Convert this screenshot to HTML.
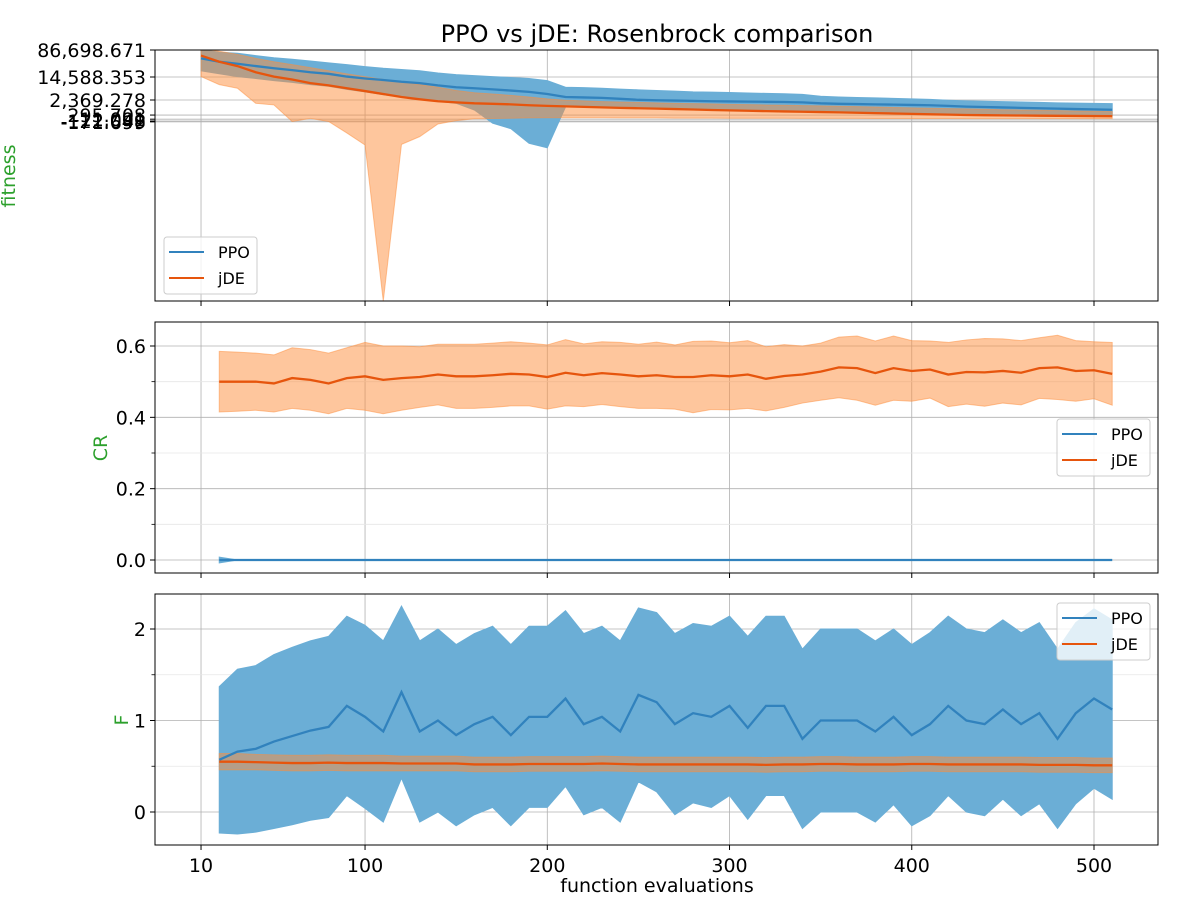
<!DOCTYPE html>
<html><head><meta charset="utf-8"><style>
body{margin:0;background:#fff;}
svg{display:block;font-family:"DejaVu Sans","Liberation Sans",sans-serif;}
</style></head><body>
<svg id="chart" width="1200" height="900" viewBox="0 0 1200 900" xmlns="http://www.w3.org/2000/svg">
<text x="657" y="42" font-size="24" text-anchor="middle">PPO vs jDE: Rosenbrock comparison</text>
<text x="657" y="892" font-size="19" text-anchor="middle">function evaluations</text>
<text transform="translate(15,176) rotate(-90)" font-size="19" fill="#2ca02c" text-anchor="middle">fitness</text>
<text transform="translate(107,448) rotate(-90)" font-size="19" fill="#2ca02c" text-anchor="middle">CR</text>
<text transform="translate(128,720) rotate(-90)" font-size="19" fill="#2ca02c" text-anchor="middle">F</text>
</svg>
<script>
// ---- data ----
const xTop = [10,20,30,40,50,60,70,80,90,100,110,120,130,140,150,160,170,180,190,200,210,220,230,240,250,260,270,280,290,300,310,320,330,340,350,360,370,380,390,400,410,420,430,440,450,460,470,480,490,500,510];
const ppoFit = [50000,40000,35000,30000,26000,23000,20000,18000,15000,13000,11500,10000,9000,7500,6500,6000,5500,5000,4500,3800,3000,2900,2800,2600,2400,2300,2200,2100,2000,1950,1900,1850,1800,1700,1500,1400,1350,1300,1250,1200,1150,1050,950,900,850,800,760,720,680,650,620];
const ppoFitLo = [22000,18000,15000,13000,11000,9500,8000,7000,5500,4500,3600,3000,2500,2000,1500,600,-250,-500,-2500,-3200,900,1000,1000,900,850,800,750,700,650,620,600,580,560,520,500,480,460,440,420,400,380,360,340,320,300,290,280,270,260,250,240];
const ppoFitHi = [90000,75000,70000,60000,52000,47000,42000,37000,33000,29000,26000,24000,22000,19000,17000,16000,15000,14000,13000,11000,6500,6300,6000,5600,5300,5000,4800,4500,4400,4300,4100,4000,3900,3700,3200,3000,2900,2800,2700,2600,2500,2300,2100,2000,1900,1800,1700,1600,1550,1500,1450];
const jdeFit = [60000,40000,30000,20000,15000,12000,9000,7500,6000,4800,3800,3000,2500,2000,1700,1500,1400,1300,1150,1050,980,920,860,800,760,720,680,640,600,570,540,510,490,470,450,430,410,390,370,350,330,315,300,285,270,260,250,240,230,220,210];
const jdeFitLo = [15000,8000,6000,1500,1200,-150,50,-150,-800,-3000,-120000,-2800,-1200,-300,-100,20,40,60,80,90,90,90,90,80,80,80,70,70,70,60,60,60,60,50,50,50,50,40,40,40,40,40,30,30,30,30,30,30,30,30,30];
const jdeFitHi = [100000,80000,65000,50000,40000,33000,27000,22000,18000,15000,12000,10000,8000,6500,5000,4200,3800,3400,3000,2600,2300,2100,1900,1800,1700,1600,1500,1450,1400,1300,1250,1200,1150,1100,1050,1000,950,900,850,800,760,720,700,660,620,600,580,550,520,500,480];
const fitTickVals = [86698.671,14588.353,2369.278,295.708,-11.091,-122.048,-171.699];
const fitTickLabels = ["86,698.671","14,588.353","2,369.278","295.708","-11.091","-122.048","-171.699"];

const xLow = [20,30,40,50,60,70,80,90,100,110,120,130,140,150,160,170,180,190,200,210,220,230,240,250,260,270,280,290,300,310,320,330,340,350,360,370,380,390,400,410,420,430,440,450,460,470,480,490,500,510];
const jdeCR = [0.50,0.50,0.50,0.495,0.51,0.505,0.495,0.51,0.515,0.505,0.51,0.513,0.52,0.515,0.515,0.518,0.522,0.52,0.513,0.525,0.518,0.524,0.52,0.515,0.518,0.513,0.513,0.518,0.515,0.52,0.508,0.516,0.52,0.528,0.54,0.538,0.524,0.538,0.53,0.534,0.52,0.527,0.526,0.53,0.525,0.538,0.54,0.53,0.532,0.522];
const jdeCRsd = [0.085,0.083,0.08,0.08,0.085,0.085,0.085,0.085,0.095,0.095,0.09,0.085,0.085,0.09,0.09,0.09,0.09,0.088,0.09,0.093,0.088,0.088,0.09,0.09,0.093,0.09,0.1,0.096,0.094,0.095,0.09,0.088,0.08,0.08,0.085,0.09,0.09,0.09,0.085,0.08,0.09,0.09,0.095,0.09,0.09,0.085,0.09,0.085,0.08,0.088];
const ppoCR = [0,0,0,0,0,0,0,0,0,0,0,0,0,0,0,0,0,0,0,0,0,0,0,0,0,0,0,0,0,0,0,0,0,0,0,0,0,0,0,0,0,0,0,0,0,0,0,0,0,0];
const crTicks = [0.0,0.2,0.4,0.6];
const crTickLabels = ["0.0","0.2","0.4","0.6"];

const ppoF = [0.57,0.66,0.69,0.77,0.83,0.89,0.93,1.16,1.04,0.88,1.31,0.88,1.0,0.84,0.96,1.04,0.84,1.04,1.04,1.24,0.96,1.04,0.88,1.28,1.2,0.96,1.08,1.04,1.16,0.92,1.16,1.16,0.8,1.0,1.0,1.0,0.88,1.04,0.84,0.96,1.16,1.0,0.96,1.12,0.96,1.08,0.8,1.08,1.24,1.12];
const ppoFsd = [0.8,0.9,0.91,0.95,0.97,0.98,0.99,0.98,1.0,0.99,0.94,0.99,1.0,0.99,0.99,0.99,0.99,0.99,0.99,0.96,0.99,0.99,0.99,0.95,0.98,0.99,0.98,0.99,0.98,1.0,0.98,0.98,0.98,1.0,1.0,1.0,0.99,0.96,0.99,1.0,0.98,1.0,1.0,0.98,1.0,0.99,0.98,0.99,0.98,0.98];
const jdeF = [0.55,0.55,0.545,0.54,0.535,0.535,0.54,0.535,0.535,0.535,0.53,0.53,0.53,0.53,0.52,0.52,0.52,0.525,0.525,0.525,0.525,0.53,0.525,0.52,0.52,0.52,0.52,0.52,0.52,0.52,0.515,0.52,0.52,0.525,0.525,0.52,0.52,0.52,0.525,0.525,0.52,0.52,0.52,0.52,0.52,0.515,0.515,0.515,0.51,0.51];
const jdeFsd = [0.09,0.09,0.085,0.085,0.085,0.085,0.085,0.085,0.085,0.085,0.08,0.08,0.08,0.08,0.08,0.08,0.08,0.08,0.08,0.08,0.08,0.08,0.08,0.08,0.08,0.08,0.08,0.08,0.08,0.08,0.08,0.08,0.08,0.08,0.08,0.08,0.08,0.08,0.08,0.08,0.08,0.08,0.08,0.08,0.08,0.08,0.08,0.08,0.08,0.08];
const fTicks = [0,1,2];
const fTickLabels = ["0","1","2"];
const xTicks = [10,100,200,300,400,500];
const xTickLabels = ["10","100","200","300","400","500"];

// ---- layout ----
const NS = "http://www.w3.org/2000/svg";
const svg = document.getElementById('chart');
const L = 155, R = 1158;
const xs = v => 182.8 + v * (1094 - 182.8) / 500;
const panels = [{t:50,b:301},{t:322,b:573},{t:594,b:845}];
const knots = [[-120000,301],[-3000,145],[-300,124],[0,119],[300,115],[2369.278,100],[14588.353,77],[86698.671,50],[200000,38]];
function yFit(v){
  for (let i=0;i<knots.length-1;i++){
    const [a,ya]=knots[i],[b,yb]=knots[i+1];
    if (v<=b || i===knots.length-2){
      let t;
      const logSeg = (a>=300 && b>=300) || (a<=-300 && b<=-300);
      if (logSeg) t = Math.log(Math.abs(v)/Math.abs(a))/Math.log(Math.abs(b)/Math.abs(a));
      else t=(v-a)/(b-a);
      if (v<a) t=0;
      return ya+(yb-ya)*t;
    }
  }
}
const yCR = v => 560 - v * (560 - 346) / 0.6;
const yF = v => 812 - v * (812 - 629) / 2;

function el(tag, attrs, parent){const e=document.createElementNS(NS,tag);for(const k in attrs)e.setAttribute(k,attrs[k]);(parent||svg).appendChild(e);return e;}
function clip(id,p){const c=el('clipPath',{id:id});el('rect',{x:L,y:p.t,width:R-L,height:p.b-p.t},c);}
clip('c0',panels[0]);clip('c1',panels[1]);clip('c2',panels[2]);

function grid(p, yvals, yfn, minor){
  const g = el('g',{});
  
  
  xTicks.forEach(v=>el('line',{x1:xs(v),x2:xs(v),y1:p.t,y2:p.b,stroke:'#b0b0b0','stroke-width':0.8},g));
  yvals.forEach(v=>el('line',{x1:L,x2:R,y1:yfn(v),y2:yfn(v),stroke:'#b0b0b0','stroke-width':0.8},g));
  (minor||[]).forEach(v=>{el('line',{x1:L,x2:R,y1:yfn(v),y2:yfn(v),stroke:'#e6e6e6','stroke-width':0.8},g);el('line',{x1:L-3.5,x2:L,y1:yfn(v),y2:yfn(v),stroke:'#000','stroke-width':0.8},g);});
}
function band(xv, lo, hi, yfn, color, op, cid, name){
  let d='M'+xv.map((x,i)=>xs(x)+','+yfn(hi[i])).join('L');
  for(let i=xv.length-1;i>=0;i--) d+='L'+xs(xv[i])+','+yfn(lo[i]);
  const p = el('path',{d:d+'Z',fill:color,'fill-opacity':op,stroke:color,'stroke-opacity':op,'stroke-width':1,'clip-path':'url(#'+cid+')'});
  
  
}
function line(xv, yv, yfn, color, cid, name){
  const p = el('path',{d:'M'+xv.map((x,i)=>xs(x)+','+yfn(yv[i])).join('L'),fill:'none',stroke:color,'stroke-width':2.3,'clip-path':'url(#'+cid+')'});
  
  
}
function frame(p, yvals, labels, yfn, showX){
  const r = el('rect',{x:L,y:p.t,width:R-L,height:p.b-p.t,fill:'none',stroke:'#000','stroke-width':1});
  
  
  yvals.forEach((v,i)=>{
    el('line',{x1:L-5,x2:L,y1:yfn(v),y2:yfn(v),stroke:'#000'});
    const t = el('text',{x:L-9,y:yfn(v)+7,'font-size':19,'text-anchor':'end'});
    t.textContent = labels[i];
    
    
  });
  xTicks.forEach((v,i)=>{
    el('line',{x1:xs(v),x2:xs(v),y1:p.b,y2:p.b+5,stroke:'#000'});
    if(showX){
      const t = el('text',{x:xs(v),y:p.b+27,'font-size':19,'text-anchor':'middle'});
      t.textContent = xTickLabels[i];
      
      
    }
  });
}
function legend(x,y){
  const g = el('g',{});
  
  
  el('rect',{x:x,y:y,width:93,height:57,rx:3,fill:'#fff','fill-opacity':0.8,stroke:'#ccc'},g);
  [['PPO','#3182bd',y+17],['jDE','#e6550d',y+43]].forEach(([n,c,yy])=>{
    const e = el('g',{},g);
    
    
    el('line',{x1:x+5,x2:x+40,y1:yy-2,y2:yy-2,stroke:c,'stroke-width':2},e);
    const t = el('text',{x:x+54,y:yy+4,'font-size':16},e);
    t.textContent=n;
  });
}

const BLUE_FILL='#3182bd', BLUE_OP=0.72, OR_FILL='#fd8d3c', OR_OP=0.5;
// panel 1 fitness
grid(panels[0], fitTickVals, yFit);
band(xTop, ppoFitLo, ppoFitHi, yFit, '#6baed6', 1, 'c0', 'ppo-fitness-band');
band(xTop, jdeFitLo, jdeFitHi, yFit, OR_FILL, OR_OP, 'c0', 'jde-fitness-band');
line(xTop, ppoFit, yFit, '#3182bd', 'c0', 'ppo-fitness-line');
line(xTop, jdeFit, yFit, '#e6550d', 'c0', 'jde-fitness-line');
frame(panels[0], fitTickVals, fitTickLabels, yFit, false);
legend(164,237);

// panel 2 CR
grid(panels[1], crTicks, yCR, [0.1,0.3,0.5]);
band(xLow, jdeCR.map((m,i)=>m-jdeCRsd[i]), jdeCR.map((m,i)=>m+jdeCRsd[i]), yCR, OR_FILL, OR_OP, 'c1', 'jde-cr-band');
band(xLow, ppoCR.map((m,i)=>i===0?m-0.008:m), ppoCR.map((m,i)=>i===0?m+0.008:m), yCR, '#6baed6', 1, 'c1', 'ppo-cr-band');
line(xLow, jdeCR, yCR, '#e6550d', 'c1', 'jde-cr-line');
line(xLow, ppoCR, yCR, '#3182bd', 'c1', 'ppo-cr-line');
frame(panels[1], crTicks, crTickLabels, yCR, false);
legend(1057,419);

// panel 3 F
grid(panels[2], fTicks, yF, [0.5,1.5]);
band(xLow, ppoF.map((m,i)=>m-ppoFsd[i]), ppoF.map((m,i)=>m+ppoFsd[i]), yF, '#6baed6', 1, 'c2', 'ppo-f-band');
band(xLow, jdeF.map((m,i)=>m-jdeFsd[i]), jdeF.map((m,i)=>m+jdeFsd[i]), yF, OR_FILL, OR_OP, 'c2', 'jde-f-band');
line(xLow, ppoF, yF, '#3182bd', 'c2', 'ppo-f-line');
line(xLow, jdeF, yF, '#e6550d', 'c2', 'jde-f-line');
frame(panels[2], fTicks, fTickLabels, yF, true);
legend(1057,603);
</script>
</body></html>
